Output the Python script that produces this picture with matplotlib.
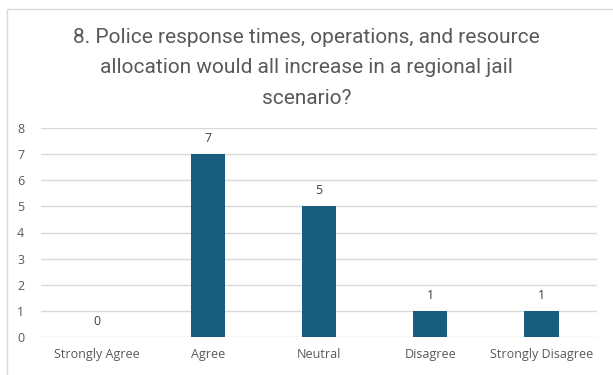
import matplotlib.pyplot as plt
from matplotlib.patches import Rectangle

categories = ["Strongly Agree", "Agree", "Neutral", "Disagree", "Strongly Disagree"]
counts = [0, 7, 5, 1, 1]
title = ("8. Police response times, operations, and resource\n"
         "allocation would all increase in a regional jail\n"
         "scenario?")

plt.rcParams["font.family"] = ["Open Sans", "DejaVu Sans"]

fig = plt.figure(figsize=(6.13, 3.75), dpi=100)
fig.patches.append(Rectangle((7 / 613, -0.1), 1.2, 1 - 9 / 375 + 0.1,
                             transform=fig.transFigure, fill=False,
                             edgecolor="#D9D9D9", linewidth=1))

ax = fig.add_axes([41 / 613, 1 - 337 / 375, 556 / 613, (337 - 128) / 375])
x = range(len(categories))
bars = ax.bar(x, counts, width=0.31, color="#175E7E", zorder=3)
for b, v in zip(bars, counts):
    ax.text(b.get_x() + b.get_width() / 2, v + 0.35, str(v),
            ha="center", va="bottom", fontsize=9, color="#404040")

ax.set_xlim(-0.5, 4.5)
ax.set_ylim(0, 8)
ax.set_yticks(range(0, 9))
ax.set_xticks(list(x))
ax.set_xticklabels(categories)
ax.tick_params(axis="both", length=0, labelsize=9, colors="#595959")
ax.tick_params(axis="y", pad=12)
ax.tick_params(axis="x", pad=8)
ax.grid(axis="y", color="#D9D9D9", linewidth=1, zorder=0)
for s in ax.spines.values():
    s.set_visible(False)

fig.text(0.5, 1 - 28 / 375, title, ha="center", va="top", fontsize=15,
         color="#595959", linespacing=1.75,
         family=["Roboto", "DejaVu Sans"])

fig.savefig("out.png", dpi=100)
